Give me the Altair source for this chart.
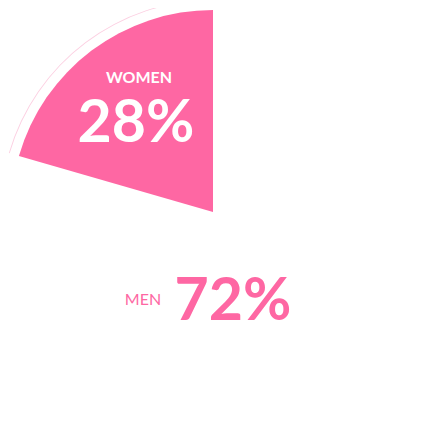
import math
import pandas as pd
import altair as alt

groups = ["MEN", "WOMEN"]
shares = [72, 28]
labels = ["72%", "28%"]

PINK = "#fe67a3"

df = pd.DataFrame({"group": groups, "share": shares, "label": labels})

# rotation so that the women slice ends at 12 o'clock
span = math.radians(73.9) / 0.28
theta_scale = alt.Scale(range=[2 * math.pi - span, 2 * math.pi])

base = alt.Chart(df)

pie = base.mark_arc(radius=202).encode(
    theta=alt.Theta("share:Q", stack=True, scale=theta_scale),
    order=alt.Order("group:N", sort="ascending"),
    color=alt.Color("group:N", scale=alt.Scale(domain=groups, range=["#ffffff", PINK]), legend=None),
)

ring = base.mark_arc(radius=212.5, radius2=211.6).encode(
    theta=alt.Theta("share:Q", stack=True, scale=theta_scale),
    order=alt.Order("group:N", sort="ascending"),
    color=alt.Color("group:N", scale=alt.Scale(domain=groups, range=["#ffffff", "#fcd0e2"]), legend=None),
)

women = df[df["group"] == "WOMEN"]
men = df[df["group"] == "MEN"]

women_name = alt.Chart(women).mark_text(
    font="Lato", fontSize=16, fontWeight="bold", fontStyle="normal", color="white",
    align="center", baseline="alphabetic"
).encode(text="group:N", x=alt.value(131), y=alt.value(75))

women_pct = alt.Chart(women).mark_text(
    font="Lato", fontSize=59, fontWeight="bold", fontStyle="normal", color="white",
    align="center", baseline="alphabetic"
).encode(text="label:N", x=alt.value(128), y=alt.value(134))

men_name = alt.Chart(men).mark_text(
    font="Lato", fontSize=16, fontWeight="normal", fontStyle="normal", color=PINK,
    align="center", baseline="alphabetic"
).encode(text="group:N", x=alt.value(135), y=alt.value(297))

men_pct = alt.Chart(men).mark_text(
    font="Lato", fontSize=59, fontWeight="bold", fontStyle="normal", color=PINK,
    align="center", baseline="alphabetic"
).encode(text="label:N", x=alt.value(225), y=alt.value(312))

chart = alt.layer(ring, pie, women_name, women_pct, men_name, men_pct).resolve_scale(
    color="independent"
).properties(
    width=410, height=408, padding=0, autosize="none"
).configure_view(stroke=None)

chart.save("out.html", embed_options={"renderer": "svg", "actions": False})
